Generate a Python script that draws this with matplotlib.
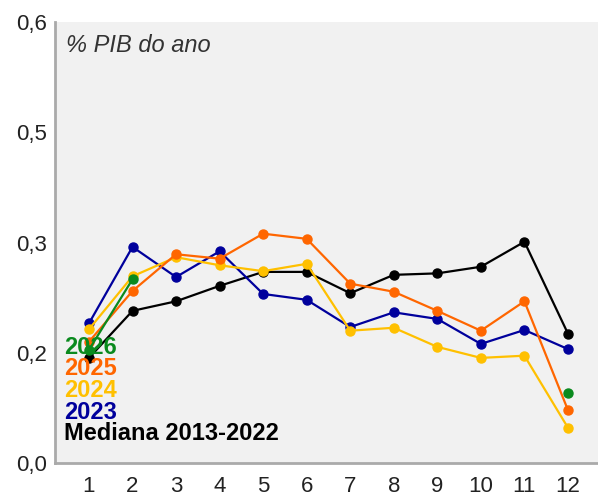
import numpy as np
import matplotlib
matplotlib.use("Agg")
import matplotlib.pyplot as plt

plt.rcParams['font.family'] = ['Liberation Sans', 'DejaVu Sans']

months = list(range(1, 13))
mediana = [0.143, 0.207, 0.220, 0.241, 0.260, 0.260, 0.231, 0.256, 0.258, 0.267, 0.301, 0.176]
y2023 = [0.190, 0.294, 0.253, 0.288, 0.230, 0.222, 0.185, 0.205, 0.196, 0.162, 0.181, 0.155]
y2024 = [0.182, 0.254, 0.280, 0.269, 0.261, 0.271, 0.180, 0.184, 0.158, 0.143, 0.146, 0.048]
y2025 = [0.165, 0.234, 0.284, 0.278, 0.312, 0.305, 0.244, 0.233, 0.207, 0.180, 0.220, 0.072]
y2026 = [0.154, 0.250, np.nan, np.nan, np.nan, np.nan, np.nan, np.nan, np.nan, np.nan, np.nan, 0.095]

ytick_vals = [0.0, 0.15, 0.30, 0.45, 0.60]
ytick_labels = ["0,0", "0,2", "0,3", "0,5", "0,6"]

series = [
    ("Mediana 2013-2022", mediana, "#000000"),
    ("2023", y2023, "#00009c"),
    ("2024", y2024, "#ffc000"),
    ("2025", y2025, "#ff6600"),
    ("2026", y2026, "#0a8a1e"),
]

fig = plt.figure(figsize=(5.98, 4.95), dpi=100)
ax = fig.add_axes([55/598, 1-463/495, 1-55/598, 441/495])
ax.set_facecolor("#f1f1f1")

for i, (name, vals, col) in enumerate(series):
    ax.plot(months, vals, color=col, lw=1.6, marker="o", markersize=6.5, zorder=2+i)

ax.set_xlim(0.22, 12.69)
ax.set_ylim(0, 0.6)
ax.set_xticks(months)
ax.set_xticklabels([str(m) for m in months])
ax.set_yticks(ytick_vals)
ax.set_yticklabels(ytick_labels)
ax.tick_params(length=0, labelsize=16, colors="#222222")
ax.tick_params(axis='x', pad=9)
ax.tick_params(axis='y', pad=6)
for s in ["top", "right"]:
    ax.spines[s].set_visible(False)
for s in ["left", "bottom"]:
    ax.spines[s].set_color("#aaaaaa")
    ax.spines[s].set_linewidth(2)

fig.text(66/598, 1 - 45/495, "% PIB do ano", fontsize=17,
         style="italic", color="#333333", va="center", ha="left")

labels = [("2026", "#0a8a1e"), ("2025", "#ff6600"), ("2024", "#ffc000"),
          ("2023", "#00009c"), ("Mediana 2013-2022", "#000000")]
y0 = 347
for k, (t, c) in enumerate(labels):
    fig.text(64/598, 1 - (y0 + k*21.7)/495, t, color=c, fontsize=17, fontweight="bold",
             va="center", ha="left", zorder=10)

fig.savefig("out.png", dpi=100)
